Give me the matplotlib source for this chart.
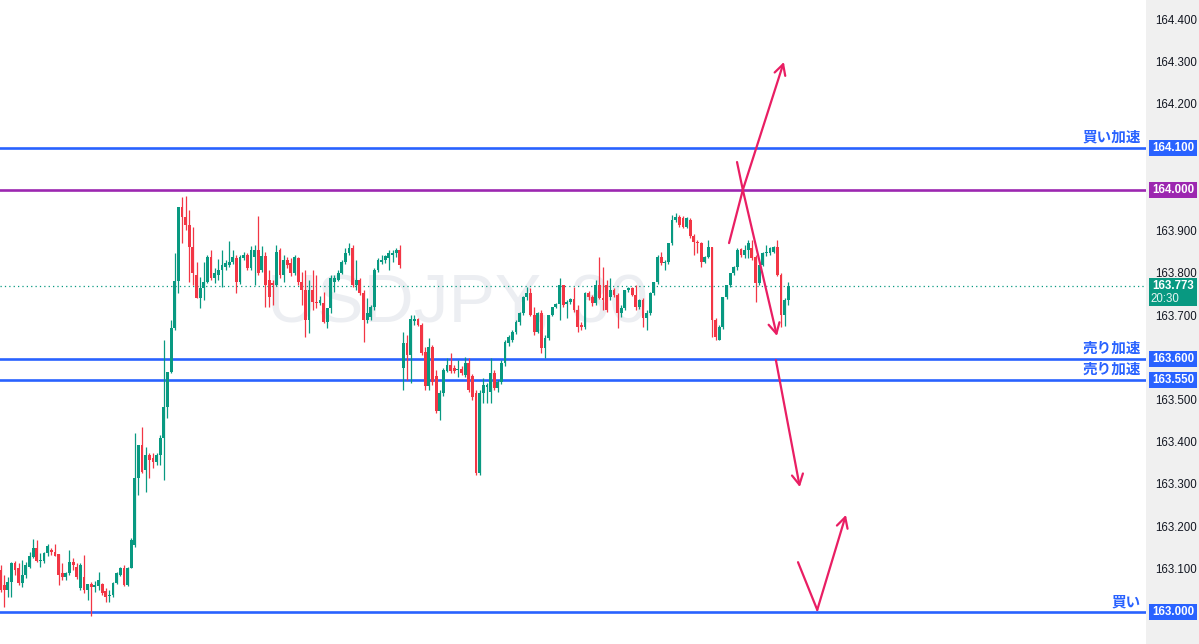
import matplotlib
matplotlib.use("Agg")
import matplotlib.pyplot as plt
from matplotlib.patches import Rectangle
import matplotlib.transforms as mtransforms

# ---------------- data (USDJPY 30m candles) ----------------
opens = [163.100, 163.064, 163.052, 163.071, 163.116, 163.104, 163.069, 163.088, 163.107, 163.130,
         163.152, 163.121, 163.121, 163.140, 163.147, 163.142, 163.137, 163.092, 163.083, 163.092,
         163.118, 163.107, 163.057, 163.083, 163.052, 163.066, 163.059, 163.062, 163.066, 163.050,
         163.038, 163.040, 163.069, 163.088, 163.104, 163.064, 163.104, 163.159, 163.317, 163.396,
         163.336, 163.372, 163.365, 163.355, 163.372, 163.412, 163.486, 163.569, 163.673, 163.784,
         163.959, 163.936, 163.917, 163.865, 163.798, 163.744, 163.768, 163.782, 163.841, 163.791,
         163.798, 163.810, 163.817, 163.822, 163.829, 163.839, 163.782, 163.839, 163.846, 163.815,
         163.841, 163.858, 163.810, 163.843, 163.787, 163.780, 163.775, 163.858, 163.798, 163.834,
         163.827, 163.803, 163.839, 163.782, 163.763, 163.692, 163.763, 163.734, 163.732, 163.732,
         163.687, 163.720, 163.782, 163.787, 163.803, 163.829, 163.851, 163.862, 163.775, 163.787,
         163.756, 163.692, 163.699, 163.723, 163.810, 163.829, 163.834, 163.839, 163.846, 163.851,
         163.858, 163.578, 163.637, 163.609, 163.689, 163.694, 163.680, 163.616, 163.536, 163.628,
         163.559, 163.476, 163.519, 163.571, 163.585, 163.578, 163.573, 163.576, 163.562, 163.590,
         163.559, 163.519, 163.329, 163.519, 163.533, 163.521, 163.566, 163.531, 163.545, 163.590,
         163.637, 163.644, 163.663, 163.687, 163.708, 163.746, 163.756, 163.704, 163.663, 163.708,
         163.625, 163.649, 163.704, 163.723, 163.730, 163.775, 163.730, 163.734, 163.742, 163.715,
         163.680, 163.675, 163.756, 163.746, 163.732, 163.775, 163.744, 163.775, 163.746, 163.763,
         163.751, 163.708, 163.720, 163.763, 163.768, 163.751, 163.723, 163.739, 163.697, 163.708,
         163.756, 163.782, 163.841, 163.827, 163.829, 163.874, 163.929, 163.936, 163.933, 163.912,
         163.929, 163.891, 163.877, 163.874, 163.829, 163.841, 163.865, 163.692, 163.644, 163.675,
         163.746, 163.775, 163.803, 163.817, 163.860, 163.846, 163.858, 163.862, 163.841, 163.780,
         163.822, 163.851, 163.851, 163.853, 163.865, 163.798, 163.704, 163.739]

highs = [163.111, 163.088, 163.083, 163.118, 163.121, 163.116, 163.123, 163.118, 163.142, 163.173,
         163.171, 163.140, 163.142, 163.161, 163.152, 163.161, 163.137, 163.116, 163.095, 163.147,
         163.128, 163.116, 163.116, 163.135, 163.066, 163.071, 163.073, 163.095, 163.069, 163.057,
         163.052, 163.071, 163.095, 163.107, 163.111, 163.107, 163.175, 163.424, 163.396, 163.438,
         163.391, 163.377, 163.377, 163.377, 163.419, 163.644, 163.569, 163.692, 163.850, 163.959,
         163.983, 163.985, 163.952, 163.912, 163.829, 163.794, 163.829, 163.846, 163.858, 163.815,
         163.836, 163.858, 163.834, 163.879, 163.858, 163.846, 163.846, 163.853, 163.851, 163.867,
         163.869, 163.938, 163.867, 163.853, 163.810, 163.787, 163.869, 163.862, 163.846, 163.841,
         163.839, 163.846, 163.841, 163.805, 163.810, 163.787, 163.810, 163.798, 163.749, 163.758,
         163.720, 163.798, 163.798, 163.810, 163.834, 163.862, 163.874, 163.869, 163.834, 163.791,
         163.763, 163.744, 163.727, 163.815, 163.839, 163.846, 163.846, 163.858, 163.858, 163.862,
         163.869, 163.663, 163.656, 163.704, 163.704, 163.697, 163.685, 163.628, 163.649, 163.633,
         163.573, 163.526, 163.578, 163.602, 163.614, 163.585, 163.597, 163.583, 163.604, 163.602,
         163.564, 163.526, 163.526, 163.555, 163.543, 163.602, 163.573, 163.550, 163.597, 163.644,
         163.656, 163.668, 163.692, 163.711, 163.749, 163.770, 163.768, 163.723, 163.711, 163.715,
         163.656, 163.704, 163.723, 163.732, 163.791, 163.775, 163.739, 163.744, 163.770, 163.727,
         163.687, 163.758, 163.760, 163.751, 163.787, 163.841, 163.817, 163.787, 163.791, 163.768,
         163.756, 163.727, 163.763, 163.770, 163.770, 163.775, 163.742, 163.744, 163.715, 163.758,
         163.782, 163.846, 163.853, 163.834, 163.874, 163.940, 163.945, 163.940, 163.938, 163.936,
         163.933, 163.895, 163.881, 163.877, 163.843, 163.881, 163.865, 163.697, 163.680, 163.746,
         163.775, 163.803, 163.820, 163.862, 163.862, 163.869, 163.881, 163.881, 163.846, 163.822,
         163.853, 163.869, 163.865, 163.867, 163.881, 163.803, 163.744, 163.782]

lows = [163.047, 163.012, 163.036, 163.036, 163.088, 163.064, 163.059, 163.081, 163.104, 163.128,
        163.118, 163.107, 163.116, 163.133, 163.135, 163.133, 163.064, 163.076, 163.076, 163.088,
        163.100, 163.078, 163.052, 163.045, 163.028, 162.991, 163.047, 163.052, 163.040, 163.024,
        163.024, 163.036, 163.066, 163.085, 163.062, 163.062, 163.104, 163.154, 163.277, 163.329,
        163.284, 163.317, 163.341, 163.348, 163.348, 163.313, 163.460, 163.566, 163.668, 163.756,
        163.874, 163.905, 163.782, 163.775, 163.744, 163.720, 163.739, 163.780, 163.787, 163.780,
        163.787, 163.770, 163.810, 163.817, 163.824, 163.756, 163.777, 163.834, 163.810, 163.810,
        163.775, 163.798, 163.805, 163.723, 163.723, 163.727, 163.772, 163.791, 163.782, 163.815,
        163.796, 163.798, 163.775, 163.727, 163.651, 163.661, 163.715, 163.720, 163.727, 163.685,
        163.673, 163.708, 163.758, 163.785, 163.800, 163.824, 163.846, 163.770, 163.763, 163.751,
        163.640, 163.685, 163.692, 163.715, 163.805, 163.824, 163.827, 163.810, 163.829, 163.841,
        163.815, 163.526, 163.550, 163.543, 163.680, 163.678, 163.609, 163.526, 163.526, 163.538,
        163.472, 163.455, 163.512, 163.569, 163.566, 163.566, 163.557, 163.562, 163.557, 163.521,
        163.502, 163.325, 163.325, 163.495, 163.495, 163.495, 163.526, 163.521, 163.540, 163.583,
        163.630, 163.640, 163.658, 163.680, 163.704, 163.739, 163.701, 163.656, 163.661, 163.614,
        163.602, 163.644, 163.701, 163.720, 163.692, 163.723, 163.697, 163.730, 163.711, 163.663,
        163.668, 163.670, 163.739, 163.725, 163.727, 163.742, 163.715, 163.711, 163.739, 163.746,
        163.673, 163.699, 163.715, 163.758, 163.749, 163.715, 163.718, 163.675, 163.668, 163.704,
        163.751, 163.777, 163.822, 163.810, 163.824, 163.869, 163.924, 163.912, 163.910, 163.910,
        163.886, 163.846, 163.851, 163.817, 163.827, 163.839, 163.651, 163.644, 163.644, 163.670,
        163.742, 163.770, 163.798, 163.810, 163.841, 163.839, 163.839, 163.834, 163.734, 163.775,
        163.820, 163.843, 163.846, 163.851, 163.796, 163.675, 163.677, 163.727]

closes = [163.052, 163.052, 163.071, 163.116, 163.100, 163.069, 163.088, 163.111, 163.133, 163.152,
          163.121, 163.123, 163.140, 163.156, 163.142, 163.133, 163.088, 163.083, 163.092, 163.118,
          163.111, 163.083, 163.111, 163.052, 163.066, 163.059, 163.064, 163.076, 163.045, 163.036,
          163.040, 163.069, 163.092, 163.104, 163.064, 163.104, 163.171, 163.317, 163.396, 163.332,
          163.372, 163.360, 163.355, 163.372, 163.412, 163.486, 163.569, 163.673, 163.784, 163.959,
          163.936, 163.917, 163.865, 163.803, 163.744, 163.768, 163.782, 163.841, 163.791, 163.803,
          163.810, 163.822, 163.827, 163.829, 163.841, 163.782, 163.841, 163.846, 163.815, 163.858,
          163.858, 163.803, 163.843, 163.775, 163.746, 163.775, 163.853, 163.798, 163.834, 163.822,
          163.803, 163.841, 163.782, 163.763, 163.692, 163.763, 163.734, 163.732, 163.739, 163.687,
          163.720, 163.791, 163.791, 163.803, 163.829, 163.851, 163.862, 163.775, 163.787, 163.756,
          163.692, 163.708, 163.723, 163.810, 163.834, 163.834, 163.843, 163.851, 163.851, 163.858,
          163.822, 163.637, 163.609, 163.694, 163.694, 163.680, 163.614, 163.536, 163.628, 163.545,
          163.476, 163.519, 163.573, 163.585, 163.571, 163.571, 163.576, 163.566, 163.590, 163.526,
          163.509, 163.329, 163.519, 163.538, 163.538, 163.566, 163.531, 163.545, 163.590, 163.640,
          163.651, 163.663, 163.687, 163.708, 163.746, 163.756, 163.704, 163.663, 163.708, 163.625,
          163.649, 163.704, 163.723, 163.730, 163.775, 163.727, 163.734, 163.742, 163.715, 163.675,
          163.675, 163.756, 163.746, 163.732, 163.775, 163.744, 163.739, 163.715, 163.763, 163.751,
          163.708, 163.720, 163.763, 163.768, 163.751, 163.723, 163.739, 163.697, 163.708, 163.756,
          163.782, 163.841, 163.827, 163.829, 163.874, 163.929, 163.936, 163.917, 163.912, 163.933,
          163.891, 163.877, 163.874, 163.829, 163.841, 163.865, 163.692, 163.651, 163.675, 163.746,
          163.775, 163.803, 163.817, 163.858, 163.846, 163.858, 163.874, 163.839, 163.780, 163.822,
          163.851, 163.853, 163.862, 163.865, 163.798, 163.704, 163.739, 163.773]

price_ticks = [163.000, 163.100, 163.200, 163.300, 163.400, 163.500, 163.600, 163.700,
               163.800, 163.900, 164.000, 164.100, 164.200, 164.300, 164.400]

# horizontal levels and the labels written above them
blue_levels = [164.100, 163.600, 163.550, 163.000]
blue_labels = ["買い加速", "売り加速", "売り加速", "買い"]
purple_level = 164.000
last_price = 163.773
countdown = "20:30"
symbol_text = "USDJPY, 30"

# hand-drawn arrows: anchor points as (bar index, price)
arrow_paths = [
    [(200.7, 163.874), (204.5, 164.000), (213.9, 163.654)],
    [(202.9, 164.066), (204.5, 164.000), (215.8, 164.303)],
    [(213.6, 163.597), (220.2, 163.296)],
    [(219.7, 163.118), (225.0, 163.005), (232.9, 163.230)],
]

# ---------------- styling ----------------
UP = "#089981"
DOWN = "#f23645"
BLUE = "#2962ff"
PURPLE = "#9c27b0"
ARROW = "#e91e63"
SCALE_BG = "#f0f0f0"

W, H = 1199, 644
PLOT_W = 1146
BAR_PX = 3.63
PX_PER_PRICE = 422.1

fig = plt.figure(figsize=(W / 100, H / 100), dpi=100)
fig.patch.set_facecolor("white")

ax = fig.add_axes([0, 0, PLOT_W / W, 1])
ymin = 163.0 - (H - 612) / PX_PER_PRICE
ymax = 163.0 + 612 / PX_PER_PRICE
ax.set_ylim(ymin, ymax)
ax.set_xlim(-0.5 / BAR_PX, (PLOT_W - 0.5) / BAR_PX)
ax.set_axis_off()

# watermark
ax.text(0.399, 0.528, symbol_text, transform=ax.transAxes, ha="center", va="center",
        fontsize=50, color="#eceef2", family="Liberation Sans", zorder=0)

# horizontal levels
for lvl in blue_levels:
    ax.axhline(lvl, color=BLUE, lw=1.9, zorder=3)
ax.axhline(purple_level, color=PURPLE, lw=1.9, zorder=3)
ax.axhline(last_price, color=UP, lw=0.9, ls=(0, (1, 2.5)), zorder=1)

# candles
xs = list(range(len(closes)))
for i in xs:
    o, h, l, c = opens[i], highs[i], lows[i], closes[i]
    col = UP if c >= o else DOWN
    ax.vlines(i, l, h, color=col, lw=0.9, zorder=4)
    bot = min(o, c)
    hgt = max(abs(c - o), 0.0024)
    ax.bar(i, hgt, bottom=bot, width=0.78, color=col, lw=0, zorder=5)

# labels above lines
trans = mtransforms.blended_transform_factory(ax.transAxes, ax.transData)
jp = ["Noto Sans CJK JP", "DejaVu Sans"]
for lvl, txt in zip(blue_levels, blue_labels):
    ax.text(1141 / PLOT_W, lvl + 3 / PX_PER_PRICE, txt, transform=trans, ha="right", va="bottom",
            fontsize=10.5, fontweight="bold", color=BLUE, family=jp, zorder=6)

# arrows
for path in arrow_paths:
    for (x0, y0), (x1, y1) in zip(path[:-2], path[1:-1]):
        ax.plot([x0, x1], [y0, y1], color=ARROW, lw=1.6, solid_capstyle="round", zorder=7)
    (x0, y0), (x1, y1) = path[-2], path[-1]
    ax.annotate("", xy=(x1, y1), xytext=(x0, y0),
                arrowprops=dict(arrowstyle="->,head_length=0.75,head_width=0.4", color=ARROW,
                                lw=1.6, shrinkA=0, shrinkB=0), zorder=7)

# ---------------- price scale ----------------
ax2 = fig.add_axes([PLOT_W / W, 0, (W - PLOT_W) / W, 1])
ax2.set_ylim(ymin, ymax)
ax2.set_xlim(0, 1)
ax2.set_facecolor(SCALE_BG)
for s in ax2.spines.values():
    s.set_visible(False)
ax2.set_xticks([])
ax2.set_yticks([])

FONT = "Liberation Sans"
FS = 8.3
boxed = {164.100: BLUE, 164.000: PURPLE, 163.600: BLUE, 163.550: BLUE, 163.000: BLUE}
for p in price_ticks:
    if p in boxed:
        continue
    ax2.text(0.56, p, f"{p:.3f}", ha="center", va="center", fontsize=FS, color="#131722",
             family=FONT)

bh = 16 / PX_PER_PRICE
for p, col in boxed.items():
    ax2.add_patch(Rectangle((0.06, p - bh / 2), 0.9, bh, color=col, lw=0, zorder=3))
    ax2.text(0.51, p, f"{p:.3f}", ha="center", va="center", fontsize=FS, color="white",
             family=FONT, fontweight="bold", zorder=4)

# last price box
top = last_price + 8 / PX_PER_PRICE
bot = last_price - 20 / PX_PER_PRICE
ax2.add_patch(Rectangle((0.06, bot), 0.9, top - bot, color=UP, lw=0, zorder=3))
ax2.text(0.51, last_price, f"{last_price:.3f}", ha="center", va="center", fontsize=FS,
         color="white", family=FONT, fontweight="bold", zorder=4)
ax2.text(0.36, last_price - 13 / PX_PER_PRICE, countdown, ha="center", va="center", fontsize=FS,
         color="#e6f5f2", family=FONT, zorder=4)

fig.savefig("out.png", dpi=100)
